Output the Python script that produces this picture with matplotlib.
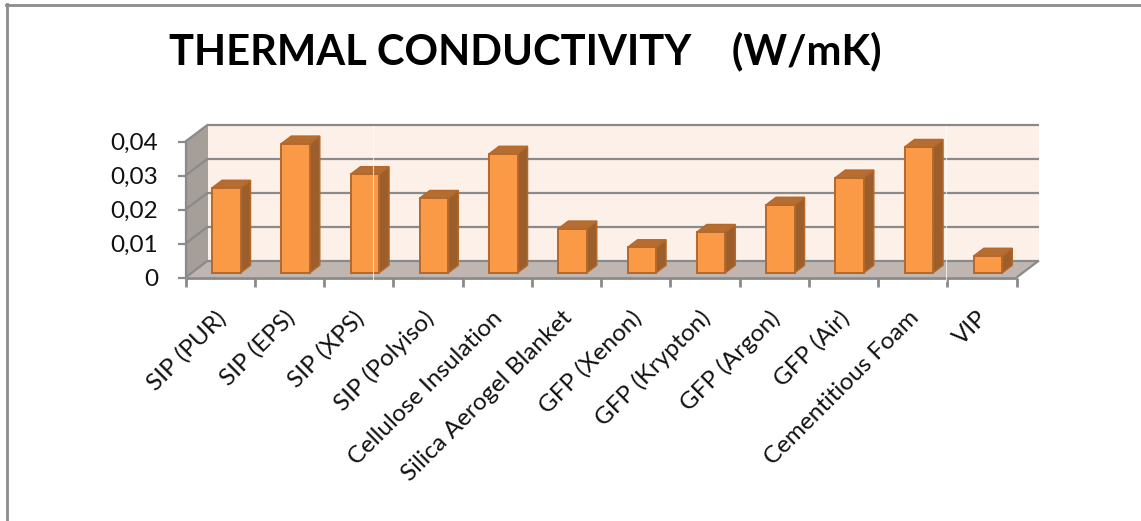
import matplotlib
matplotlib.use("Agg")
import matplotlib.pyplot as plt
from matplotlib.patches import Polygon
from matplotlib.lines import Line2D

categories = ["SIP (PUR)", "SIP (EPS)", "SIP (XPS)", "SIP (Polyiso)", "Cellulose Insulation",
              "Silica Aerogel Blanket", "GFP (Xenon)", "GFP (Krypton)", "GFP (Argon)", "GFP (Air)",
              "Cementitious Foam", "VIP"]
values = [0.025, 0.038, 0.029, 0.022, 0.035, 0.013, 0.0075, 0.012, 0.02, 0.028, 0.037, 0.005]
y_ticks = [0, 0.01, 0.02, 0.03, 0.04]
y_labels = ["0", "0,01", "0,02", "0,03", "0,04"]
title = "THERMAL CONDUCTIVITY    (W/mK)"

W, H = 1141, 521
plt.rcParams["font.family"] = ["Lato", "DejaVu Sans"]
fig = plt.figure(figsize=(W / 100, H / 100), dpi=100)

L, R, B, T = 185.5, 1016.5, 277.5, 141.5
ax = fig.add_axes([L / W, 1 - B / H, (R - L) / W, (B - T) / H])
ax.set_xlim(0, len(categories))
ax.set_ylim(0, 0.04)
ax.axis("off")

ux = (R - L) / len(categories)
uy = (B - T) / 0.04
DX, DY = 22.5 / ux, 17 / uy   # oblique depth of the floor, data units

def depth(x, y, d):
    return (x + DX * d, y + DY * d)

def poly(pts, fc, ec="none", lw=0, z=1):
    ax.add_patch(Polygon(pts, closed=True, facecolor=fc, edgecolor=ec, linewidth=lw,
                         zorder=z, clip_on=False, joinstyle="miter"))

def line(xs, ys, c="#8a8a8a", lw=1.6, z=2):
    ax.add_line(Line2D(xs, ys, color=c, linewidth=lw, zorder=z, clip_on=False,
                       solid_capstyle="butt"))

n = len(categories)
top = y_ticks[-1]
poly([depth(0, 0, 1), depth(n, 0, 1), depth(n, top, 1), depth(0, top, 1)], "#fdf0e9", z=1)
poly([(0, 0), depth(0, 0, 1), depth(0, top, 1), (0, top)], "#a69e99", z=1)
poly([(0, 0), (n, 0), depth(n, 0, 1), depth(0, 0, 1)], "#bfb6b2", z=1)

for t, lab in zip(y_ticks, y_labels):
    a = depth(0, t, 1)
    b = depth(n, t, 1)
    line([a[0], b[0]], [a[1], b[1]])
    line([0, a[0]], [t, a[1]])
    line([-8 / ux, 0], [t, t])
    ax.text(-27.5 / ux, t - 2 / uy, lab, ha="right", va="center",
            fontsize=17.5, color="#111111", zorder=6, clip_on=False)

line([0, 0], [0, top])
line([0, n], [0, 0], lw=2)
a = depth(n, 0, 1)
line([n, a[0]], [0, a[1]])
for i in range(n + 1):
    line([i, i], [0, -9 / uy], lw=2)

# bars
w = 28.5 / ux
d0, d1 = 0.28, 0.72
edge = "#b5682a"
for i, v in enumerate(values):
    x0 = i + 0.5 - w / 2 + DX * d0
    x1 = x0 + w
    y0 = DY * d0
    y1 = y0 + v
    dx = DX * (d1 - d0)
    dy = DY * (d1 - d0)
    poly([(x1, y0), (x1 + dx, y0 + dy), (x1 + dx, y1 + dy), (x1, y1)], "#9c5f2b", edge, 1.0, z=3 + i * 0.01)
    poly([(x0, y1), (x1, y1), (x1 + dx, y1 + dy), (x0 + dx, y1 + dy)], "#b56d31", edge, 1.0, z=3 + i * 0.01)
    poly([(x0, y0), (x1, y0), (x1, y1), (x0, y1)], "#fa9a47", edge, 1.4, z=3.005 + i * 0.01)

# faint vertical seams of the source image
for px in (372.5, 945.5):
    xv = (px - L) / ux
    ax.plot([xv, xv], [-3 / uy, 0.0445], color="#ffffff", lw=0.8, alpha=0.7, zorder=5, clip_on=False)

for i, c in enumerate(categories):
    ax.annotate(c, xy=(i + 0.5, 0), xytext=(i + 37 / ux, -37 / uy), textcoords="data",
                rotation=45, rotation_mode="anchor", ha="right", va="center",
                fontsize=17.5, color="#111111", annotation_clip=False)

# outer frame (top and left only)
fig.add_artist(Line2D([6.5 / W, 6.5 / W], [0, 1 - 4 / H], color="#8c8c8c", lw=2))
fig.add_artist(Line2D([5.5 / W, 1], [1 - 5 / H, 1 - 5 / H], color="#8c8c8c", lw=2))

fig.text(525 / W, 1 - 51 / H, title, ha="center", va="center", fontsize=30, fontweight="bold", color="black")

fig.savefig("out.png", dpi=100, facecolor="white")
